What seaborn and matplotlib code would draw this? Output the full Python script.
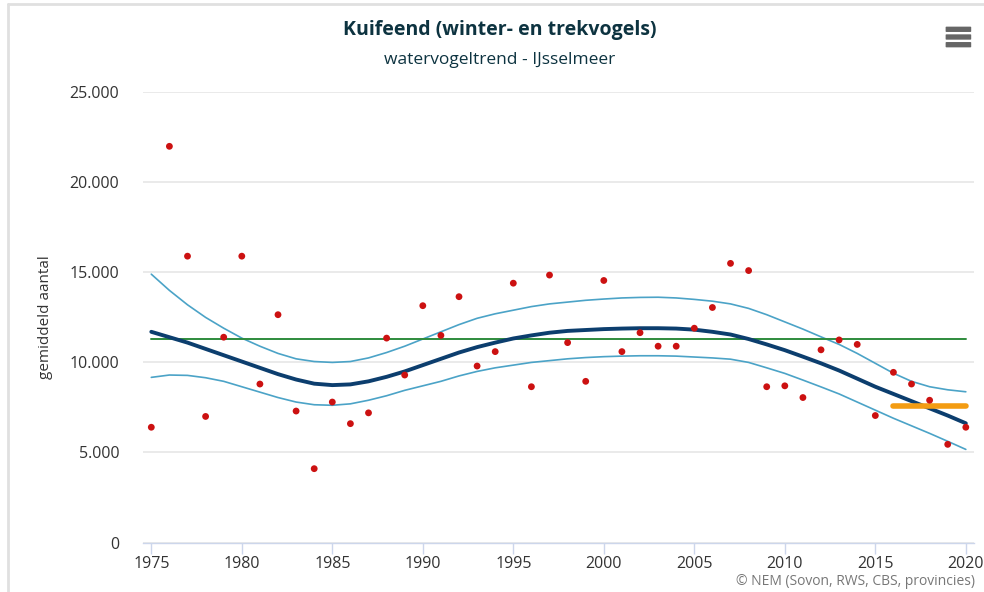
import numpy as np
import pandas as pd
import matplotlib.pyplot as plt
import seaborn as sns
from matplotlib.patches import FancyBboxPatch
from matplotlib.lines import Line2D

jaren = list(range(1975, 2021))
aantal = [6400, 22000, 15900, 7000, 11400, 15900, 8800, 12650, 7300, 4100,
          7800, 6600, 7200, 11350, 9300, 13150, 11500, 13650, 9800, 10600,
          14400, 8650, 14850, 11100, 8950, 14550, 10600, 11650, 10900, 10900,
          11900, 13050, 15500, 15100, 8650, 8700, 8050, 10700, 11250, 11000,
          7050, 9450, 8800, 7900, 5450, 6400]

trend = [11700, 11400, 11100, 10750, 10400, 10050, 9700, 9350, 9050, 8820,
         8740, 8780, 8950, 9200, 9500, 9850, 10200, 10550, 10850, 11100,
         11330, 11500, 11650, 11750, 11800, 11850, 11880, 11900, 11900, 11880,
         11820, 11700, 11550, 11300, 11000, 10680, 10320, 9950, 9550, 9100,
         8650, 8250, 7850, 7450, 7050, 6620]

boven = [14900, 14000, 13200, 12500, 11900, 11350, 10900, 10500, 10200, 10050,
         10000, 10050, 10250, 10550, 10900, 11300, 11700, 12100, 12450, 12700,
         12900, 13100, 13250, 13350, 13450, 13520, 13580, 13610, 13620, 13580,
         13500, 13400, 13250, 13000, 12650, 12250, 11850, 11420, 11000, 10500,
         9950, 9400, 8950, 8650, 8480, 8370]

onder = [9170, 9300, 9280, 9150, 8950, 8650, 8350, 8050, 7800, 7650,
         7620, 7700, 7900, 8150, 8450, 8700, 8950, 9250, 9500, 9700,
         9850, 10000, 10100, 10200, 10270, 10320, 10350, 10370, 10370, 10350,
         10300, 10250, 10180, 10000, 9700, 9390, 9020, 8640, 8250, 7800,
         7350, 6900, 6480, 6060, 5620, 5170]

gemiddelde_totaal = 11310
gemiddelde_recent = 7590
recent_jaren = [2016, 2020]

df = pd.DataFrame({"jaar": jaren, "aantal": aantal, "trend": trend,
                   "boven": boven, "onder": onder})

sns.set_theme(style="white")
plt.rcParams["font.family"] = ["Open Sans", "DejaVu Sans"]

fig = plt.figure(figsize=(9.84, 5.92), dpi=100)
ax = fig.add_axes([0.1453, 0.0836, 0.8445, 0.7605])

tekst = "#333333"
ax.set_xlim(1974.54, 2020.45)
ax.set_ylim(0, 25000)
ax.set_yticks(range(0, 25001, 5000))
ax.set_yticklabels(["0", "5.000", "10.000", "15.000", "20.000", "25.000"])
ax.set_xticks(range(1975, 2021, 5))
ax.yaxis.grid(True, color="#e6e6e6", linewidth=1.2)
ax.set_axisbelow(True)
for kant in ["top", "right", "left"]:
    ax.spines[kant].set_visible(False)
ax.spines["bottom"].set_color("#ccd6eb")
ax.spines["bottom"].set_linewidth(1)
ax.tick_params(axis="x", length=8, width=1, color="#ccd6eb", colors=tekst,
               labelsize=11.5, pad=2, bottom=True)
ax.tick_params(axis="y", length=0, colors=tekst, labelsize=11.5, pad=17)
for lbl in ax.get_xticklabels() + ax.get_yticklabels():
    lbl.set_color(tekst)

sns.lineplot(data=df, x="jaar", y="boven", ax=ax, color="#4ba3c7", linewidth=1.2)
sns.lineplot(data=df, x="jaar", y="onder", ax=ax, color="#4ba3c7", linewidth=1.2)
ax.axhline(gemiddelde_totaal, xmin=(1975 - 1974.54) / (2020.45 - 1974.54),
           xmax=(2020 - 1974.54) / (2020.45 - 1974.54), color="#2e8b3c", linewidth=1.4)
sns.lineplot(data=df, x="jaar", y="trend", ax=ax, color="#0c3e6e", linewidth=2.8)
ax.plot(recent_jaren, [gemiddelde_recent] * 2, color="#f39c12", linewidth=4,
        solid_capstyle="round")
sns.scatterplot(data=df, x="jaar", y="aantal", ax=ax, color="#cc1111", s=24,
                edgecolor="none", zorder=5)

ax.set_xlabel("")
ax.set_ylabel("gemiddeld aantal", fontsize=11, color=tekst, labelpad=12)

fig.text(0.508, 0.949, "Kuifeend (winter- en trekvogels)", ha="center", va="center",
         fontsize=14, fontweight="bold", color="#0d3340")
fig.text(0.508, 0.898, "watervogeltrend - IJsselmeer", ha="center", va="center",
         fontsize=12.5, color="#0d3340")
fig.text(0.991, 0.017, "\u00a9 NEM (Sovon, RWS, CBS, provincies)", ha="right",
         va="center", fontsize=10, color="#777777")

# menu-icoon rechtsboven
for yy in [0.951, 0.938, 0.925]:
    fig.patches.append(FancyBboxPatch((0.962, yy - 0.004), 0.024, 0.007,
                                      boxstyle="round,pad=0.001", transform=fig.transFigure,
                                      facecolor="#666666", edgecolor="none"))

# kader van de container
fig.add_artist(Line2D([0.0085, 0.0085], [0.0, 0.993], transform=fig.transFigure,
                      color="#e0e0e0", linewidth=2))
fig.add_artist(Line2D([0.0085, 1.0], [0.993, 0.993], transform=fig.transFigure,
                      color="#e0e0e0", linewidth=2))

fig.savefig("out.png", dpi=100)
